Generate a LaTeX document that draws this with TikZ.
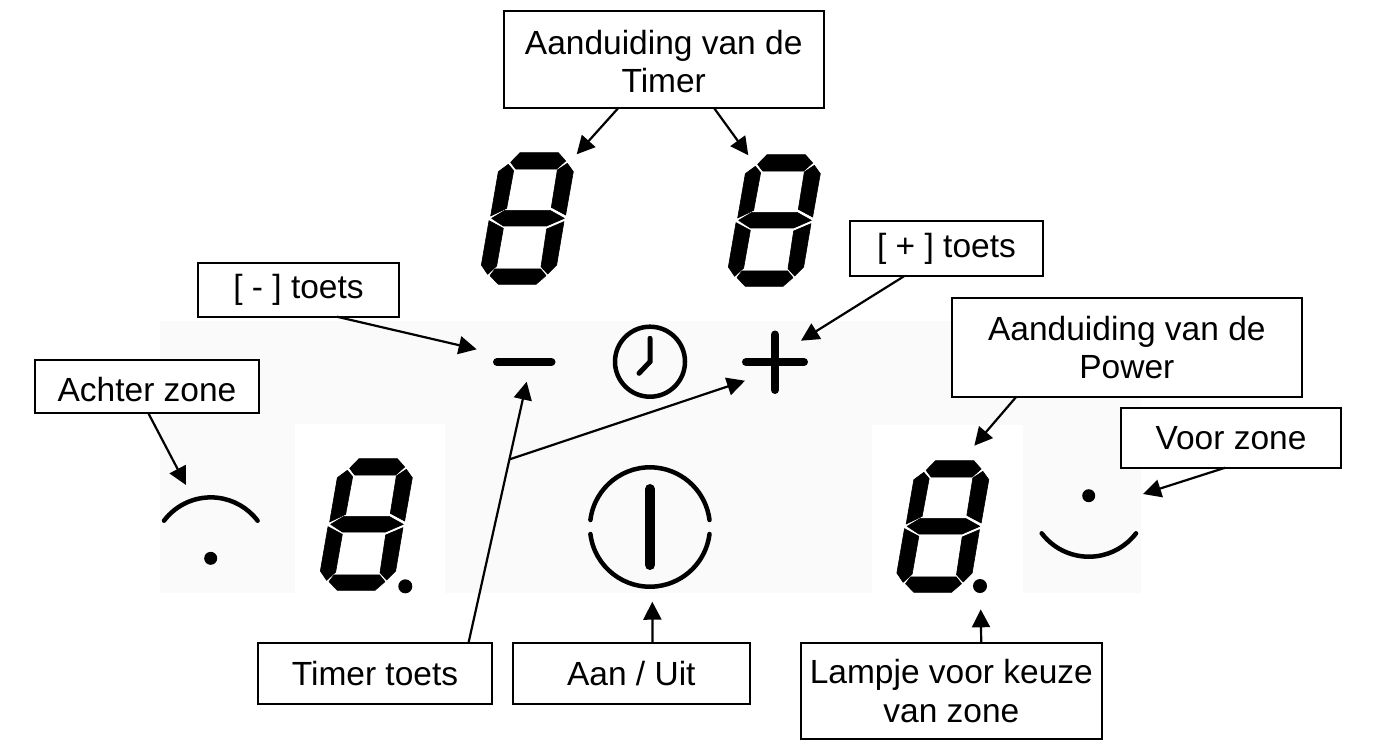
\documentclass[tikz,border=0pt]{standalone}
\usepackage{fontspec}
\setmainfont{Liberation Sans}
\usetikzlibrary{arrows.meta,calc}
\definecolor{panelgrey}{HTML}{FAFAFA}
\tikzset{
	lbl/.style={draw,line width=1.9pt,inner sep=0,outer sep=0,align=center,fill=white,font=\fontsize{33.5}{38.3}\selectfont},
	diredge/.style={-{Stealth[width=18pt,length=18pt,inset=0pt]},color=black,line width=2.2pt},
	icon/.style={color=black,line cap=round,line width=4.5pt},
	seg/.style={fill=black,draw=black,line width=.6pt,line join=round}
}
\newcommand{\drawdigit}[1]{
	\begin{scope}[shift={(#1)},x=0.3333pt,y=-0.3333pt]
		\path[seg] (210,68) -- (325,68) -- (347,93) -- (320,117) -- (197,117) -- (182,97) -- cycle;
		\path[seg] (352,100) -- (370,125) -- (347,255) -- (304,232) -- (322,120) -- cycle;
		\path[seg] (175,103) -- (191,122) -- (170,235) -- (122,258) -- (145,125) -- cycle;
		\path[seg] (165,241) -- (300,241) -- (343,265) -- (290,288) -- (160,288) -- (125,265) -- cycle;
		\path[seg] (117,272) -- (160,295) -- (140,408) -- (113,433) -- (94,405) -- cycle;
		\path[seg] (342,275) -- (320,405) -- (293,432) -- (273,410) -- (290,297) -- cycle;
		\path[seg] (135,417) -- (272,417) -- (288,437) -- (258,463) -- (145,463) -- (120,437) -- cycle;
	\end{scope}
}
\begin{document}
\begin{tikzpicture}[x=1pt,y=-1pt]
	\useasboundingbox (0,0) rectangle (1376,748);
	%%%panel
	\fill[panelgrey] (160,321) rectangle (1141,593);
	\fill[white] (295,424) rectangle (445,593);
	\fill[white] (872,425) rectangle (1023,593);

	%%%digits
	\drawdigit{450,130}
	\drawdigit{697,132}
	\drawdigit{289,436}
	\drawdigit{865.5,438}
	\fill (405.3,586.3) circle (7);
	\fill (980,586) circle (7);

	%%%keys
	\draw[icon,line width=8pt] (497,362) -- (551.5,362);
	\draw[icon,line width=8pt] (746,362) -- (804,362) (775,334.5) -- (775,390);
	\draw[icon] (650,361.7) circle (35);
	\draw[icon,line width=5pt] (650,338.3) -- (650,361.7) -- (639,373.3);
	\draw[icon] (590.4,520) arc[start angle=-173,end angle=-7,radius=60];
	\draw[icon] (590.4,534) arc[start angle=173,end angle=7,radius=60];
	\draw[icon,line width=10pt] (650,489) -- (650,565);

	%%%zones
	\draw[icon] (164,520.7) arc[start angle=-143,end angle=-37,radius=58.6];
	\fill (210.7,558.3) circle (6.5);
	\draw[icon] (1041.7,533.3) arc[start angle=142.8,end angle=37.2,radius=59.2];
	\fill (1088.7,495.7) circle (6.5);

	%%%labels
	\node[lbl,minimum width=320,minimum height=96.7] (timerbox) at (663.7,59.3) {\rule{0pt}{28.5pt}Aanduiding van de\\Timer};
	\node[lbl,minimum width=201.6,minimum height=53.7] (minusbox) at (298.5,289.85) {[ - ] toets};
	\node[lbl,minimum width=192.4,minimum height=55.3] (plusbox) at (946.5,248.65) {[ + ] toets};
	\node[lbl,minimum width=350.3,minimum height=98.4] (powerbox) at (1126.85,347.5) {Aanduiding van de\\Power};
	\node[lbl,minimum width=224,minimum height=53.3,text height=30pt] (achterbox) at (147,386.65) {Achter zone};
	\node[lbl,minimum width=220,minimum height=59.7] (voorbox) at (1231,437.85) {Voor zone};
	\node[lbl,minimum width=233.4,minimum height=60.7] (toetsbox) at (375,673.65) {Timer toets};
	\node[lbl,minimum width=237.3,minimum height=60.7] (aanbox) at (631.35,673.65) {Aan / Uit};
	\node[lbl,minimum width=301.3,minimum height=95.7] (lampbox) at (951.35,691.15) {Lampje voor keuze\\van zone};

	%%%arrow ends
	\coordinate (digitA) at (576.7,154.3);
	\coordinate (digitB) at (748.3,155.3);
	\coordinate (minuskey) at (476.7,349.3);
	\coordinate (pluskey) at (801,340.7);
	\coordinate (powerdigit) at (974.3,445.7);
	\coordinate (voorzone) at (1143,494);
	\coordinate (achterzone) at (186,485);
	\coordinate (timerkey) at (526.7,381.7);
	\coordinate (timerhand) at (745,380.7);
	\coordinate (aankey) at (652.3,601.7);
	\coordinate (lamp) at (980.7,609.3);
	\coordinate (timerjoin) at ($(toetsbox.18)!0.703!(timerkey)$);

	\draw[diredge] (timerbox.-133.2) -- (digitA);
	\draw[diredge] (timerbox.-44.3) -- (digitB);
	\draw[diredge] (minusbox.-35.1) -- (minuskey);
	\draw[diredge] (plusbox.-147.7) -- (pluskey);
	\draw[diredge] (powerbox.-156.3) -- (powerdigit);
	\draw[diredge] (voorbox.-101.4) -- (voorzone);
	\draw[diredge] (achterbox.-87.2) -- (achterzone);
	\draw[diredge] (toetsbox.18) -- (timerkey);
	\draw[diredge] (timerjoin) -- (timerhand);
	\draw[diredge] (aanbox.55.3) -- (aankey);
	\draw[diredge] (lampbox.58.5) -- (lamp);
\end{tikzpicture}
\end{document}
